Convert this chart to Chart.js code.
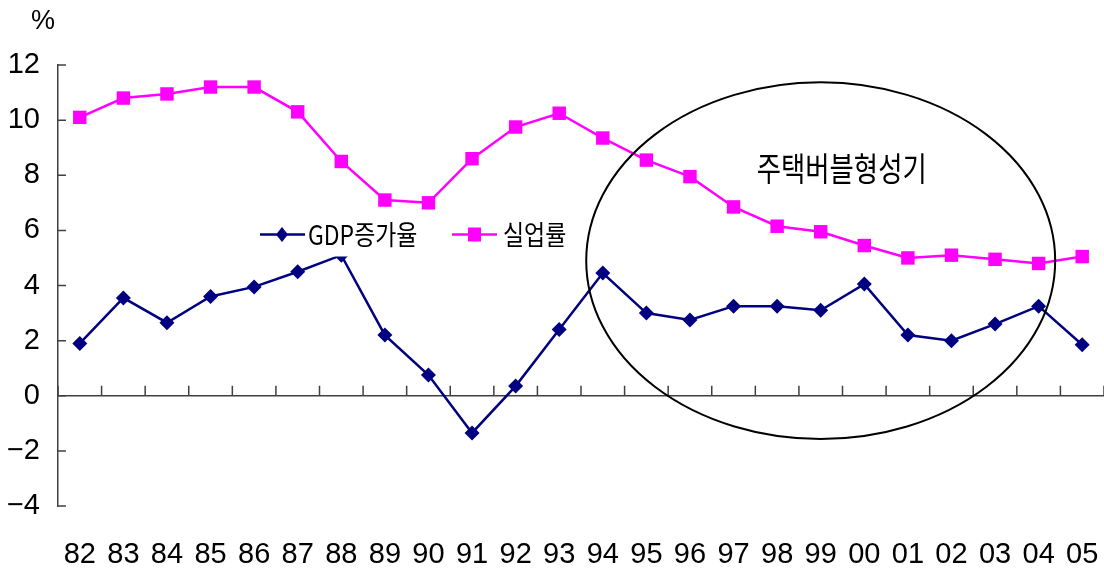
<!DOCTYPE html>
<html>
<head>
<meta charset="utf-8">
<script src="https://cdn.jsdelivr.net/npm/chart.js@4/dist/chart.umd.min.js"></script>
<style>
html, body { margin: 0; padding: 0; background: #fff; }
#wrap { width: 1104px; height: 571px; }
</style>
</head>
<body>
<div id="wrap"><canvas id="chart"></canvas></div>
<script>
// data
var years = ['82','83','84','85','86','87','88','89','90','91','92','93','94','95','96','97','98','99','00','01','02','03','04','05'];
var gdpGrowth = [1.9, 3.55, 2.65, 3.6, 3.95, 4.5, 5.1, 2.2, 0.75, -1.35, 0.35, 2.4, 4.45, 3.0, 2.75, 3.25, 3.25, 3.1, 4.05, 2.2, 2.0, 2.6, 3.25, 1.85];
var unemployment = [10.1, 10.8, 10.95, 11.2, 11.2, 10.3, 8.5, 7.1, 7.0, 8.6, 9.75, 10.25, 9.35, 8.55, 7.95, 6.85, 6.15, 5.95, 5.45, 5.0, 5.1, 4.95, 4.8, 5.05];
var yMin = -4, yMax = 12, yStep = 2;
var seriesNames = ['GDP증가율', '실업률'];
var bubbleLabel = '주택버블형성기';
var unitLabel = '%';

var numFont = '"Liberation Sans", Arial, sans-serif';
var krFont = '"Noto Sans CJK KR", "Noto Sans", sans-serif';
var navy = '#000080';
var magenta = '#ff00ff';
var axisColor = '#404040';

// axes, ticks, circle, legend drawn by hand
var extras = {
  id: 'extras',
  beforeDatasetsDraw: function(chart) {
    var ctx = chart.ctx;
    var xs = chart.scales.x, ys = chart.scales.y;
    var area = chart.chartArea;
    var zero = ys.getPixelForValue(0);
    var step = xs.getPixelForValue(1) - xs.getPixelForValue(0);
    ctx.save();
    ctx.strokeStyle = axisColor;
    ctx.lineWidth = 1.5;
    // zero line
    ctx.beginPath();
    ctx.moveTo(area.left, zero);
    ctx.lineTo(area.right, zero);
    ctx.stroke();
    // category ticks pointing up
    ctx.beginPath();
    for (var i = 0; i <= years.length; i++) {
      var bx = xs.getPixelForValue(0) - step / 2 + i * step;
      ctx.moveTo(bx, zero);
      ctx.lineTo(bx, zero - 10);
    }
    ctx.stroke();
    // y ticks pointing inward
    ctx.beginPath();
    for (var v = yMin; v <= yMax; v += yStep) {
      var py = ys.getPixelForValue(v);
      ctx.moveTo(area.left, py);
      ctx.lineTo(area.left + 8, py);
    }
    ctx.stroke();
    ctx.restore();
  },
  afterDatasetsDraw: function(chart) {
    var ctx = chart.ctx;
    var xs = chart.scales.x, ys = chart.scales.y;
    var area = chart.chartArea;
    var step = xs.getPixelForValue(1) - xs.getPixelForValue(0);
    var unit = ys.getPixelForValue(0) - ys.getPixelForValue(1);

    // ellipse round the housing bubble years
    var cx = xs.getPixelForValue(years.indexOf('99'));
    var cy = ys.getPixelForValue(4.9);
    ctx.save();
    ctx.strokeStyle = '#000';
    ctx.lineWidth = 2;
    ctx.beginPath();
    ctx.ellipse(cx, cy, step * 5.38, unit * 6.47, 0, 0, Math.PI * 2);
    ctx.stroke();

    // label inside ellipse
    ctx.fillStyle = '#000';
    ctx.textAlign = 'center';
    ctx.textBaseline = 'middle';
    ctx.translate(cx + 21, ys.getPixelForValue(8.25));
    ctx.scale(0.8, 1);
    ctx.font = '33px ' + krFont;
    ctx.fillText(bubbleLabel, 0, 0);
    ctx.restore();

    // legend box
    ctx.save();
    var lx = area.left + 200, ly = ys.getPixelForValue(5.85);
    ctx.fillStyle = '#fff';
    ctx.fillRect(lx - 6, ly - 22, 330, 44);
    ctx.lineWidth = 2.5;
    ctx.strokeStyle = navy;
    ctx.beginPath();
    ctx.moveTo(lx + 2, ly); ctx.lineTo(lx + 47, ly);
    ctx.stroke();
    ctx.fillStyle = navy;
    ctx.beginPath();
    ctx.moveTo(lx + 24, ly - 7.5); ctx.lineTo(lx + 30, ly); ctx.lineTo(lx + 24, ly + 7.5); ctx.lineTo(lx + 18, ly);
    ctx.closePath(); ctx.fill();

    ctx.strokeStyle = magenta;
    ctx.beginPath();
    ctx.moveTo(lx + 194, ly); ctx.lineTo(lx + 239, ly);
    ctx.stroke();
    ctx.fillStyle = magenta;
    ctx.fillRect(lx + 210, ly - 7, 13, 14);

    ctx.fillStyle = '#000';
    ctx.textBaseline = 'middle';
    ctx.textAlign = 'left';
    ctx.font = '27px ' + krFont;
    ctx.save();
    ctx.translate(lx + 50, ly);
    ctx.scale(0.85, 1);
    ctx.fillText(seriesNames[0], 0, 0);
    ctx.restore();
    ctx.save();
    ctx.translate(lx + 245, ly);
    ctx.scale(0.85, 1);
    ctx.fillText(seriesNames[1], 0, 0);
    ctx.restore();
    ctx.restore();

    // unit label
    ctx.save();
    ctx.fillStyle = '#000';
    ctx.font = '27px ' + numFont;
    ctx.textAlign = 'center';
    ctx.textBaseline = 'middle';
    ctx.fillText(unitLabel, area.left - 15, area.top - 43);
    ctx.restore();
  }
};

new Chart(document.getElementById('chart'), {
  type: 'line',
  data: {
    labels: years,
    datasets: [{
      label: seriesNames[0],
      data: gdpGrowth,
      borderColor: navy,
      backgroundColor: navy,
      borderWidth: 2.5,
      pointStyle: 'rectRot',
      pointRadius: 7.5,
      pointBorderWidth: 0,
      tension: 0,
      clip: false
    }, {
      label: seriesNames[1],
      data: unemployment,
      borderColor: magenta,
      backgroundColor: magenta,
      borderWidth: 2.5,
      pointStyle: 'rect',
      pointRadius: 9.5,
      pointBorderWidth: 0,
      tension: 0,
      clip: false
    }]
  },
  options: {
    responsive: true,
    maintainAspectRatio: false,
    animation: false,
    layout: { autoPadding: false, padding: { top: 65, left: 7, right: 0, bottom: 0 } },
    plugins: {
      legend: { display: false },
      tooltip: { enabled: false }
    },
    scales: {
      x: {
        offset: true,
        grid: { display: false, drawTicks: true, tickLength: 30 },
        border: { display: false },
        ticks: {
          autoSkip: false,
          maxRotation: 0,
          padding: 2,
          color: '#000',
          font: { family: numFont, size: 29 }
        },
        afterFit: function(scale) {
          scale.height = 65;
          scale.paddingLeft = 0;
          scale.paddingRight = 0;
        }
      },
      y: {
        min: yMin,
        max: yMax,
        grid: { display: false, drawTicks: false },
        border: { display: true, color: axisColor, width: 1.5 },
        ticks: {
          stepSize: yStep,
          padding: 18,
          color: '#000',
          font: { family: numFont, size: 29 },
          callback: function(v) { return String(v).replace('-', '\u2212'); }
        },
        afterFit: function(scale) { scale.width = 51; }
      }
    }
  },
  plugins: [extras]
});
</script>
</body>
</html>
